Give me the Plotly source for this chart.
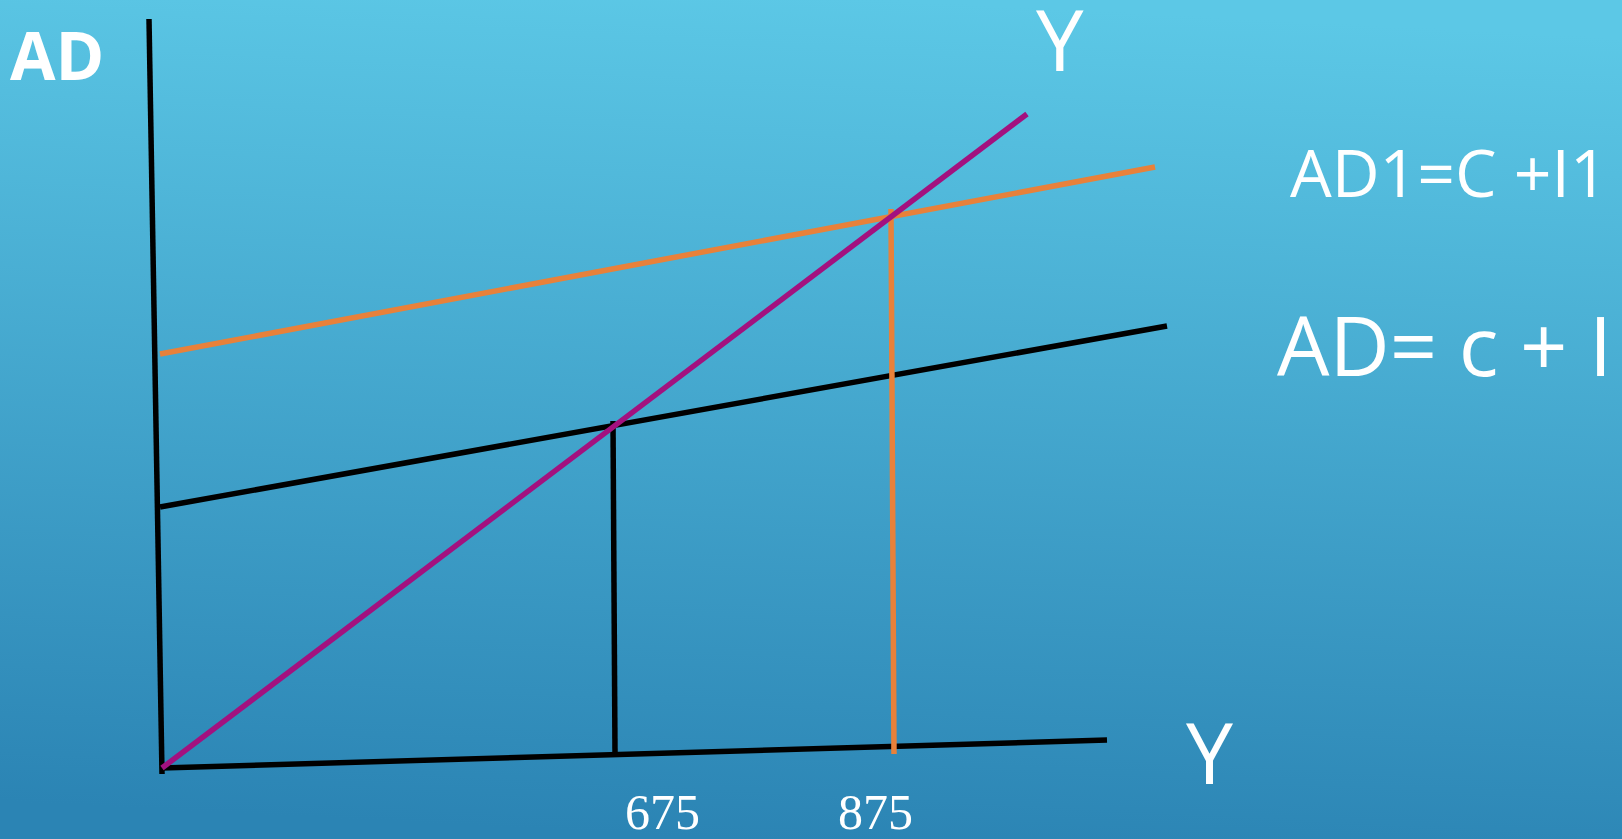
import base64
import plotly.graph_objects as go

W, H = 1622, 839

# ---- data (diagram coordinates, page pixels: x right, y down) ----
ad_axis_x = [149, 162]
ad_axis_y = [19, 774]
y_axis_x = [162, 1107]
y_axis_y = [768, 740]
line45_x = [162, 1027]
line45_y = [768, 114]
ad_x = [160, 1167]
ad_y = [507, 326]
ad1_x = [160, 1155]
ad1_y = [354, 167]
eq0_x = [613, 615]
eq0_y = [421, 752]
eq1_x = [891, 894]
eq1_y = [209, 754]

tick_labels = ["675", "875"]
tick_x = [662, 875]
tick_y = [812, 812]

BLACK = "#000000"
PURPLE = "#a3117f"
ORANGE = "#e8813a"
LW = 5.5

svg = f'''<svg xmlns="http://www.w3.org/2000/svg" width="{W}" height="{H}">
<defs><linearGradient id="g" x1="0.55" y1="0" x2="0.45" y2="1">
<stop offset="0" stop-color="#5cc8e6"/><stop offset="1" stop-color="#2b84b4"/>
</linearGradient></defs><rect width="{W}" height="{H}" fill="url(#g)"/></svg>'''
bg = "data:image/svg+xml;base64," + base64.b64encode(svg.encode()).decode()

fig = go.Figure()

def seg(x, y, color):
    fig.add_trace(go.Scatter(x=x, y=y, mode="lines",
                             line=dict(color=color, width=LW),
                             hoverinfo="skip", showlegend=False))

seg(ad_axis_x, ad_axis_y, BLACK)
seg(y_axis_x, y_axis_y, BLACK)
seg(ad_x, ad_y, BLACK)
seg(eq0_x, eq0_y, BLACK)
seg(ad1_x, ad1_y, ORANGE)
seg(eq1_x, eq1_y, ORANGE)
seg(line45_x, line45_y, PURPLE)

SANS = "Open Sans"
anns = [
    dict(text="<b>AD</b>", x=57, y=54, size=66, family=SANS),
    dict(text="Y", x=1060, y=38, size=85, family=SANS),
    dict(text="AD1=C +I1", x=1449, y=171, size=66, family=SANS),
    dict(text="AD= c + I", x=1444, y=343, size=83, family=SANS),
    dict(text="Y", x=1209, y=751, size=84, family=SANS),
]
for lbl, tx, ty in zip(tick_labels, tick_x, tick_y):
    anns.append(dict(text=lbl, x=tx, y=ty, size=50, family="Liberation Serif"))

for a in anns:
    fig.add_annotation(x=a["x"], y=a["y"], xref="x", yref="y", text=a["text"],
                       showarrow=False, xanchor="center", yanchor="middle",
                       font=dict(family=a["family"], size=a["size"], color="white"))

fig.add_layout_image(dict(source=bg, xref="paper", yref="paper", x=0, y=1,
                          sizex=1, sizey=1, xanchor="left", yanchor="top",
                          sizing="stretch", layer="below"))

fig.update_layout(
    width=W, height=H, margin=dict(l=0, r=0, t=0, b=0),
    paper_bgcolor="#3fa3cf", plot_bgcolor="rgba(0,0,0,0)",
    xaxis=dict(range=[0, W], visible=False, fixedrange=True),
    yaxis=dict(range=[H, 0], visible=False, fixedrange=True),
)

fig.write_html("out.html", config={"displayModeBar": False})
